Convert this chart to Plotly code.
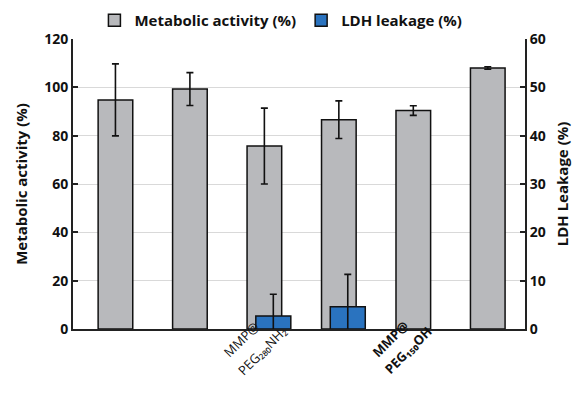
import plotly.graph_objects as go

# category labels (two lines each; Unicode subscripts)
label_line1 = ["MMP", "MMP@SiO\u2082", "MMP@", "MMP@", "MMP@", "MMP@"]
label_line2 = ["(62.5 mg/L)", "(62.5 mg/L)",
               "PEG\u2082\u2088\u2080NH\u2082", "PEG\u2082\u2088\u2080COOH",
               "PEG\u2081\u2085\u2080OH", "PEG\u2082\u2080\u2080\u2080OH"]
positions = [0, 1, 2, 3, 4, 5]
metabolic = [94.8, 99.3, 75.7, 86.6, 90.4, 108.0]
metabolic_err = [14.9, 6.8, 15.7, 7.8, 2.0, 0.5]
ldh_pos = [2, 3]
ldh = [2.7, 4.6]
ldh_err = [4.5, 6.7]

# label placement (layout only): x nudge in category units, y in paper units
l1_dx = [-0.23, -0.214, -0.304, -0.092, -0.313, -0.283]
l1_y = [-0.106, -0.133, -0.120, -0.120, -0.120, -0.120]
l2_dx = [-0.087, -0.066, -0.036, 0.106, -0.071, -0.104]
l2_y = [-0.166, -0.171, -0.182, -0.163, -0.177, -0.177]
l2_size = [11, 11, 13, 13, 13, 13]

# label style variants
use_data_ref = [True, True, False, True, False, True]
use_bold = [False, True, False, True, True, False]

gray = "#b8b9bc"
blue = "#2a73bf"
font_family = "Open Sans"

fig = go.Figure()
fig.add_trace(go.Bar(
    x=positions, y=metabolic, name="Metabolic activity (%)",
    marker=dict(color=gray, line=dict(color="#111111", width=1.5)),
    width=0.465, offset=-0.2325,
    error_y=dict(type="data", array=metabolic_err, symmetric=True,
                 color="#111111", thickness=1.6, width=3.5),
    yaxis="y",
))
fig.add_trace(go.Bar(
    x=ldh_pos, y=ldh, name="LDH leakage (%)",
    marker=dict(color=blue, line=dict(color="#111111", width=1.5)),
    width=0.47, offset=-0.235 + 0.12,
    error_y=dict(type="data", array=ldh_err, symmetric=True,
                 color="#111111", thickness=1.6, width=3.5),
    yaxis="y2",
))

for i, p in enumerate(positions):
    for dx, yy, txt, sz in ((l1_dx[i], l1_y[i], label_line1[i], 13),
                            (l2_dx[i], l2_y[i], label_line2[i], l2_size[i])):
        f = dict(size=sz, color="#111111")
        if use_bold[i]:
            f["weight"] = "bold"
        if use_data_ref[i]:
            fig.add_annotation(x=p + dx, y=yy * 120, xref="x", yref="y",
                               text=txt, textangle=-45, showarrow=False,
                               font=f)
        else:
            fig.add_annotation(x=p + dx, y=yy, xref="x", yref="paper",
                               text=txt, textangle=-45, showarrow=False,
                               font=f)

fig.update_layout(
    width=578, height=409,
    margin=dict(l=73, r=53, t=39, b=80),
    paper_bgcolor="white", plot_bgcolor="white",
    barmode="overlay",
    showlegend=True,
    legend=dict(orientation="h", x=0.46, xanchor="center",
                y=0.99, yref="container", yanchor="top",
                font=dict(size=15, family=font_family, weight="bold",
                          color="#111111"),
                itemwidth=30, traceorder="normal"),
    xaxis=dict(
        range=[-0.57, 5.5], tickmode="array", tickvals=positions,
        showticklabels=False, automargin=False,
        showline=True, linecolor="#222222", linewidth=2,
        ticks="", showgrid=False, zeroline=False, mirror=False,
    ),
    yaxis=dict(
        range=[0, 120], dtick=20, tickmode="linear", automargin=False,
        showline=True, linecolor="#222222", linewidth=2,
        ticks="inside", ticklen=5, tickwidth=1.5, tickcolor="#222222",
        showgrid=True, gridcolor="#d9d9d9", gridwidth=1, zeroline=False,
        tickfont=dict(size=14, family=font_family, weight="bold",
                      color="#111111"),
        title=dict(text="Metabolic activity (%)", standoff=13,
                   font=dict(size=15, family=font_family, weight="bold",
                             color="#111111")),
    ),
    yaxis2=dict(
        range=[0, 60], dtick=10, tickmode="linear", automargin=False,
        overlaying="y", side="right", anchor="x",
        showline=True, linecolor="#222222", linewidth=2,
        ticks="inside", ticklen=5, tickwidth=1.5, tickcolor="#222222",
        showgrid=False, zeroline=False,
        tickfont=dict(size=14, family=font_family, weight="bold",
                      color="#111111"),
        title=dict(text="LDH Leakage (%)", standoff=13,
                   font=dict(size=15, family=font_family, weight="bold",
                             color="#111111")),
    ),
)

fig.write_html("out.html",
               post_script="document.body.style.margin='0';",
               config={"displayModeBar": False})
